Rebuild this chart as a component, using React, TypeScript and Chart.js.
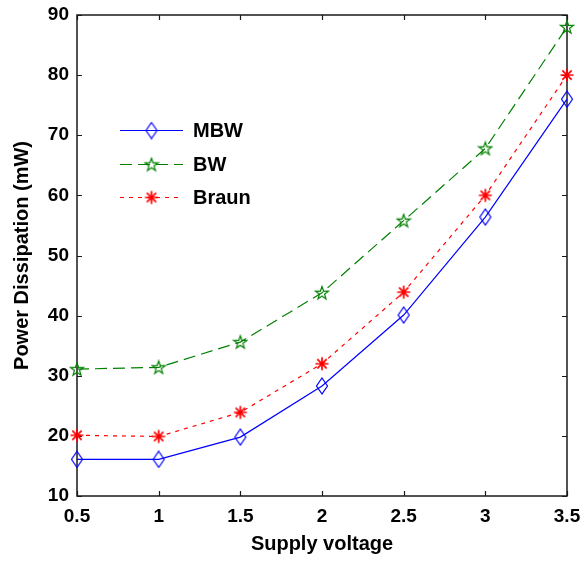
import React, { useEffect, useRef } from "react";
import { Chart, registerables } from "chart.js";

Chart.register(...registerables);

// ---- data ----
const supplyVoltage = [0.5, 1, 1.5, 2, 2.5, 3, 3.5];
const mbwPower = [16.1, 16.1, 19.8, 28.3, 40.1, 56.4, 76.0];
const bwPower = [31.1, 31.4, 35.6, 43.8, 55.8, 67.8, 88.0];
const braunPower = [20.1, 19.9, 23.9, 32.0, 43.9, 60.0, 80.0];
const seriesNames = ["MBW", "BW", "Braun"];
const yMin = 10;
const yMax = 90;
const yStep = 10;
const xMin = 0.5;
const xMax = 3.5;
const xStep = 0.5;
const xTitle = "Supply voltage";
const yTitle = "Power Dissipation (mW)";

const FONT = '"Liberation Sans", Arial, sans-serif';

function makeCanvas(w: number, h: number) {
  const c = document.createElement("canvas");
  c.width = w;
  c.height = h;
  return c;
}

function diamondMarker(color: string) {
  const c = makeCanvas(14, 18);
  const ctx = c.getContext("2d")!;
  ctx.strokeStyle = color;
  ctx.lineWidth = 1.2;
  ctx.beginPath();
  ctx.moveTo(7, 1);
  ctx.lineTo(12.5, 9);
  ctx.lineTo(7, 17);
  ctx.lineTo(1.5, 9);
  ctx.closePath();
  ctx.stroke();
  return c;
}

function pentagramMarker(color: string) {
  const c = makeCanvas(16, 16);
  const ctx = c.getContext("2d")!;
  ctx.strokeStyle = color;
  ctx.lineWidth = 1.2;
  ctx.beginPath();
  const R = 6.8;
  const r = 2.7;
  for (let i = 0; i < 10; i++) {
    const rad = i % 2 === 0 ? R : r;
    const a = -Math.PI / 2 + (i * Math.PI) / 5;
    const px = 8 + rad * Math.cos(a);
    const py = 8.5 + rad * Math.sin(a);
    if (i === 0) ctx.moveTo(px, py);
    else ctx.lineTo(px, py);
  }
  ctx.closePath();
  ctx.stroke();
  return c;
}

function asteriskMarker(color: string) {
  const c = makeCanvas(16, 16);
  const ctx = c.getContext("2d")!;
  ctx.strokeStyle = color;
  ctx.lineWidth = 1.7;
  ctx.beginPath();
  const r = 6.5;
  const d = r * 0.72;
  ctx.moveTo(8, 8 - r);
  ctx.lineTo(8, 8 + r);
  ctx.moveTo(8 - r, 8);
  ctx.lineTo(8 + r, 8);
  ctx.moveTo(8 - d, 8 - d);
  ctx.lineTo(8 + d, 8 + d);
  ctx.moveTo(8 - d, 8 + d);
  ctx.lineTo(8 + d, 8 - d);
  ctx.stroke();
  return c;
}

const boxPlugin = {
  id: "matlabBox",
  beforeDatasetsDraw(chart: any) {
    const { ctx, chartArea } = chart;
    const { left, right, top, bottom } = chartArea;
    const xs = chart.scales.x;
    const ys = chart.scales.y;
    ctx.save();
    ctx.strokeStyle = "#1a1a1a";
    ctx.lineWidth = 1.2;
    ctx.beginPath();
    for (const t of xs.ticks) {
      const px = Math.round(xs.getPixelForValue(t.value)) + 0.5;
      ctx.moveTo(px, bottom);
      ctx.lineTo(px, bottom - 5);
      ctx.moveTo(px, top);
      ctx.lineTo(px, top + 5);
    }
    for (const t of ys.ticks) {
      const py = Math.round(ys.getPixelForValue(t.value)) + 0.5;
      ctx.moveTo(left, py);
      ctx.lineTo(left + 5, py);
      ctx.moveTo(right, py);
      ctx.lineTo(right - 5, py);
    }
    ctx.stroke();
    ctx.lineWidth = 1.5;
    ctx.strokeRect(left, top, right - left, bottom - top);
    ctx.restore();
  },
};

const legendPlugin = {
  id: "insideLegend",
  afterDatasetsDraw(chart: any) {
    const { ctx, chartArea } = chart;
    const x0 = chartArea.left + 43;
    const x1 = chartArea.left + 106;
    const tx = chartArea.left + 116;
    const y0 = chartArea.top + 115;
    const dy = 33.5;
    ctx.save();
    chart.data.datasets.forEach((ds: any, i: number) => {
      const y = Math.round(y0 + i * dy) + 0.5;
      ctx.strokeStyle = ds.borderColor;
      ctx.lineWidth = ds.borderWidth;
      ctx.setLineDash(ds.borderDash || []);
      ctx.beginPath();
      ctx.moveTo(x0, y);
      ctx.lineTo(x1, y);
      ctx.stroke();
      ctx.setLineDash([]);
      const img = ds.pointStyle as HTMLCanvasElement;
      const cx = (x0 + x1) / 2;
      ctx.drawImage(img, cx - img.width / 2, y - img.height / 2);
      ctx.fillStyle = "#000";
      ctx.font = `bold 20px ${FONT}`;
      ctx.textBaseline = "middle";
      ctx.textAlign = "left";
      ctx.fillText(ds.label, tx, y + 1);
    });
    ctx.restore();
  },
};

export default function App() {
  const ref = useRef<HTMLCanvasElement>(null);

  useEffect(() => {
    document.body.style.margin = "0";
    const toPts = (arr: number[]) => supplyVoltage.map((x, i) => ({ x, y: arr[i] }));
    const chart = new Chart(ref.current!, {
      type: "line",
      data: {
        datasets: [
          {
            label: seriesNames[0],
            data: toPts(mbwPower),
            borderColor: "#0000ff",
            borderWidth: 1.2,
            borderDash: [],
            pointStyle: diamondMarker("#0000ff") as any,
            tension: 0,
            clip: false as any,
          },
          {
            label: seriesNames[1],
            data: toPts(bwPower),
            borderColor: "#008000",
            borderWidth: 1.2,
            borderDash: [12, 6],
            pointStyle: pentagramMarker("#008000") as any,
            tension: 0,
            clip: false as any,
          },
          {
            label: seriesNames[2],
            data: toPts(braunPower),
            borderColor: "#ff0000",
            borderWidth: 1.2,
            borderDash: [4, 5],
            pointStyle: asteriskMarker("#ff0000") as any,
            tension: 0,
            clip: false as any,
          },
        ],
      },
      options: {
        animation: false,
        responsive: false,
        layout: { padding: { left: 0, top: 15, right: 18, bottom: 0 } },
        plugins: {
          legend: { display: false },
          tooltip: { enabled: false },
        },
        scales: {
          x: {
            type: "linear",
            min: xMin,
            max: xMax,
            grid: { display: false, drawTicks: false },
            border: { display: false },
            ticks: {
              stepSize: xStep,
              color: "#000",
              padding: 9,
              font: { family: FONT, size: 19, weight: "bold" },
              callback: (v: any) => String(v),
            },
            title: {
              display: true,
              text: xTitle,
              color: "#000",
              font: { family: FONT, size: 20, weight: "bold" },
              padding: { top: 0, bottom: 5 },
            },
            afterFit(scale: any) {
              scale.height = 65;
              scale.paddingLeft = 0;
              scale.paddingRight = 0;
            },
          },
          y: {
            type: "linear",
            min: yMin,
            max: yMax,
            grid: { display: false, drawTicks: false },
            border: { display: false },
            ticks: {
              stepSize: yStep,
              color: "#000",
              padding: 8,
              font: { family: FONT, size: 19, weight: "bold" },
              callback: (v: any) => String(v),
            },
            title: {
              display: true,
              text: yTitle,
              color: "#000",
              font: { family: FONT, size: 20, weight: "bold" },
              padding: { top: 10, bottom: 0 },
            },
            afterFit(scale: any) {
              scale.width = 77;
              scale.paddingTop = 0;
              scale.paddingBottom = 0;
            },
          },
        },
      },
      plugins: [boxPlugin, legendPlugin],
    });
    return () => chart.destroy();
  }, []);

  return (
    <div style={{ position: "absolute", left: 0, top: 0, width: 585, height: 561, background: "#fff" }}>
      <canvas ref={ref} width={585} height={561} />
    </div>
  );
}
